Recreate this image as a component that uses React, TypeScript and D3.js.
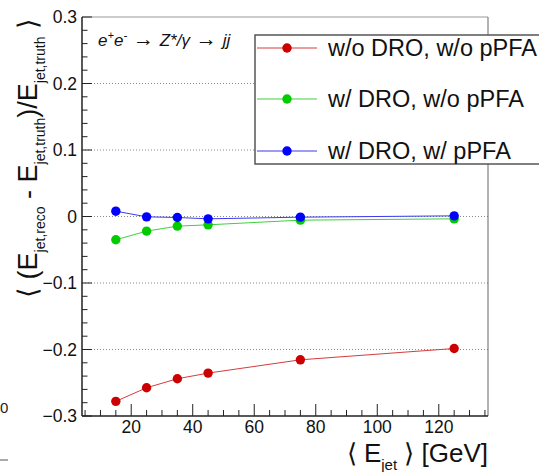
import React from "react";
import * as d3 from "d3";

const energies = [15, 25, 35, 45, 75, 125];
const redValues = [-0.278, -0.2575, -0.244, -0.2355, -0.2155, -0.1985];
const greenValues = [-0.035, -0.022, -0.0145, -0.0125, -0.0055, -0.0035];
const blueValues = [0.008, -0.0005, -0.0015, -0.0035, -0.001, 0.001];

const seriesNames = ["w/o DRO, w/o pPFA", "w/ DRO, w/o pPFA", "w/ DRO, w/ pPFA"];
const markerColors = ["#cc0000", "#00cc00", "#0000ff"];
const lineColors = ["#d43c3c", "#3fcf3f", "#3b3bf0"];

const xMajorTicks = [20, 40, 60, 80, 100, 120];
const yMajorTicks = [-0.3, -0.2, -0.1, 0, 0.1, 0.2, 0.3];

const W = 539;
const H = 472;
const left = 82, right = 488, top = 17, bottom = 416;

export default function App() {
  const x = d3.scaleLinear().domain([4, 136]).range([left, right]);
  const y = d3.scaleLinear().domain([-0.3, 0.3]).range([bottom, top]);
  const allSeries = [redValues, greenValues, blueValues];
  const line = d3
    .line<number>()
    .x((_, i) => x(energies[i]))
    .y((d) => y(d));

  const xMinor = d3.range(5, 136, 5).filter((v) => v % 20 !== 0);
  const yMinor = d3.range(-30, 31, 2).map((v) => v / 100).filter((v) => Math.abs(Math.round(v * 100) % 10) !== 0);
  const fmt = (v: number) => (v === 0 ? "0" : (v < 0 ? "\u2212" : "") + Math.abs(v).toFixed(1));

  const font = "'Liberation Sans', Arial, Helvetica, sans-serif";
  const legendRows = [48, 99, 151];

  return (
    <svg width={W} height={H} style={{ position: "absolute", left: 0, top: 0, background: "#fff" }} fontFamily={font}>
      {/* artifacts at left */}
      <text x={0} y={413} fontSize={15} fill="#222">0</text>
      <line x1={0} x2={8} y1={460} y2={460} stroke="#aaa" strokeWidth={2} />

      {/* gridlines */}
      {yMajorTicks.filter((v) => v > -0.3 && v < 0.3).map((v) => (
        <line key={"g" + v} x1={left} x2={right} y1={y(v)} y2={y(v)} stroke="#8a8a8a" strokeWidth={1} strokeDasharray="1,2" />
      ))}

      {/* frame top/right */}
      <line x1={left} x2={right} y1={top} y2={top} stroke="#999" strokeWidth={1} />
      <line x1={right} x2={right} y1={top} y2={bottom} stroke="#666" strokeWidth={1} />

      {/* y axis */}
      <line x1={left} x2={left} y1={top} y2={bottom} stroke="#222" strokeWidth={1.5} />
      {yMajorTicks.map((v) => (
        <g key={"yt" + v}>
          <line x1={left} x2={left + 10} y1={y(v)} y2={y(v)} stroke="#222" strokeWidth={1} />
          <text x={77} y={y(v)} dy="0.36em" textAnchor="end" fontSize={17.5} fill="#111">{fmt(v)}</text>
        </g>
      ))}
      {yMinor.map((v) => (
        <line key={"ym" + v} x1={left} x2={left + 5.5} y1={y(v)} y2={y(v)} stroke="#222" strokeWidth={1} />
      ))}

      {/* x axis */}
      <line x1={left} x2={right} y1={bottom} y2={bottom} stroke="#222" strokeWidth={1.5} />
      {xMajorTicks.map((v) => (
        <g key={"xt" + v}>
          <line x1={x(v)} x2={x(v)} y1={bottom} y2={bottom - 12} stroke="#222" strokeWidth={1} />
          <text x={x(v)} y={433} textAnchor="middle" fontSize={17.5} fill="#111">{v}</text>
        </g>
      ))}
      {xMinor.map((v) => (
        <line key={"xm" + v} x1={x(v)} x2={x(v)} y1={bottom} y2={bottom - 6} stroke="#222" strokeWidth={1} />
      ))}

      {/* series */}
      {allSeries.map((s, k) => (
        <g key={"s" + k}>
          <path d={line(s) || ""} fill="none" stroke={lineColors[k]} strokeWidth={1} />
          {s.map((v, i) => (
            <circle key={i} cx={x(energies[i])} cy={y(v)} r={4.7} fill={markerColors[k]} />
          ))}
        </g>
      ))}

      {/* process text */}
      <text x={98} y={46} fontSize={17} fontStyle="italic" fill="#111">
        e<tspan fontSize={11} dy={-7}>+</tspan>
        <tspan dy={7}>e</tspan>
        <tspan fontSize={11} dy={-7}>-</tspan>
        <tspan dy={7} fontStyle="normal" fontSize={21}> → </tspan>
        <tspan>Z*/γ</tspan>
        <tspan fontStyle="normal" fontSize={21}> → </tspan>
        <tspan>jj</tspan>
      </text>

      {/* legend */}
      <rect x={255} y={35} width={300} height={129} fill="#fff" stroke="#555" strokeWidth={1.5} />
      {seriesNames.map((n, k) => (
        <g key={"l" + k}>
          <line x1={257} x2={317} y1={legendRows[k]} y2={legendRows[k]} stroke={lineColors[k]} strokeWidth={1} />
          <circle cx={287} cy={legendRows[k]} r={4.7} fill={markerColors[k]} />
          <text x={328} y={legendRows[k]} dy="0.36em" fontSize={23.5} fill="#111">{n}</text>
        </g>
      ))}

      {/* y label */}
      <g transform={`translate(37, 18) rotate(-90)`}>
        <text x={0} y={0} textAnchor="end" fontSize={27} fill="#111">
          ⟨ (E<tspan fontSize={14} dy={8}>jet,reco</tspan>
          <tspan dy={-8}> - E</tspan>
          <tspan fontSize={14} dy={8}>jet,truth</tspan>
          <tspan dy={-8}>)/E</tspan>
          <tspan fontSize={14} dy={8}>jet,truth</tspan>
          <tspan dy={-8}> ⟩</tspan>
        </text>
      </g>

      {/* x label */}
      <text x={488} y={462} textAnchor="end" fontSize={26} fill="#111">
        ⟨ E<tspan fontSize={15} dy={8}>jet</tspan>
        <tspan dy={-8}> ⟩ [GeV]</tspan>
      </text>
    </svg>
  );
}
